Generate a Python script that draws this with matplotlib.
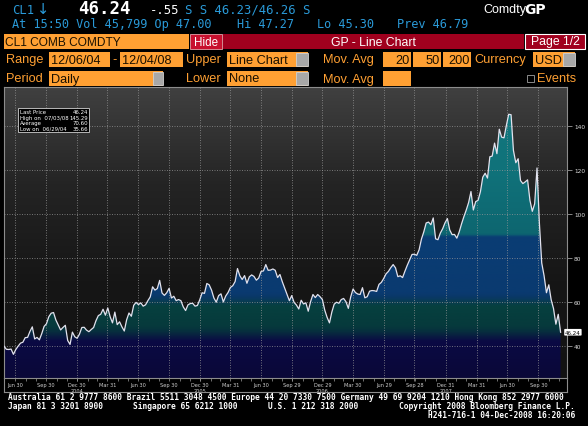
import matplotlib
matplotlib.use('Agg')
import matplotlib.pyplot as plt
import matplotlib.dates as mdates
from matplotlib.colors import LinearSegmentedColormap
from matplotlib.patches import Rectangle
import numpy as np
import pandas as pd


# ------------------------------------------------------------------ #
# Data: CL1 weekly closes (Friday dates)
# ------------------------------------------------------------------ #
prices_2004 = [39.9, 38.5, 38.4, 38.6, 36.2, 38.4, 39.9, 41.3, 41.7, 43.8,
               43.9, 46.6, 48.7, 43.2, 43.9, 42.8, 45.6, 48.9, 50.1, 53.3,
               54.9, 55.2, 51.8, 49.6, 47.3, 48.4, 49.4, 42.5, 40.7, 46.3,
               44.2, 43.5]
prices_2005 = [45.4, 48.4, 48.5, 47.2, 46.5, 47.5, 48.4, 51.5, 53.8, 54.4,
               56.7, 54.0, 57.3, 53.3, 50.5, 55.4, 49.7, 51.0, 48.7, 46.8,
               51.9, 55.0, 53.5, 58.5, 59.8, 58.8, 59.6, 58.1, 58.7, 60.6,
               62.3, 66.9, 65.4, 66.1, 69.8, 64.1, 63.0, 64.2, 66.2, 61.8,
               62.6, 60.6, 61.1, 60.6, 57.8, 56.1, 58.7, 59.3, 59.4, 58.1,
               58.4, 61.0]
prices_2006 = [64.2, 63.9, 68.4, 67.8, 65.4, 61.8, 59.9, 62.9, 63.7, 60.0,
               62.7, 64.3, 66.6, 67.4, 69.3, 75.2, 71.9, 70.2, 72.0, 68.5,
               71.4, 72.3, 71.6, 69.9, 70.9, 73.9, 74.1, 77.0, 74.4, 74.5,
               75.0, 74.4, 71.1, 72.5, 69.2, 66.3, 63.3, 60.6, 62.9, 59.8,
               58.6, 56.8, 60.8, 59.1, 59.6, 55.8, 60.2, 63.4, 62.0, 63.4,
               62.4, 61.1]
prices_2007 = [56.3, 53.0, 50.5, 55.4, 59.0, 59.9, 59.4, 61.1, 61.6, 60.1,
               57.1, 62.3, 65.9, 64.3, 63.6, 63.4, 66.5, 61.9, 62.4, 64.9,
               65.2, 65.1, 64.8, 68.0, 68.9, 70.7, 72.8, 73.9, 75.6, 77.0,
               75.5, 71.5, 71.9, 71.1, 74.0, 76.7, 79.1, 81.6, 81.7, 81.2,
               83.7, 88.6, 91.9, 95.9, 96.3, 95.1, 98.2, 88.7, 88.3, 91.3,
               93.3, 96.0]
prices_2008 = [97.9, 92.7, 90.6, 90.7, 89.0, 91.8, 95.5, 98.8, 101.8, 105.2,
               110.2, 101.8, 105.6, 106.2, 110.1, 116.7, 118.5, 116.3, 126.0, 126.3,
               132.2, 127.4, 138.5, 134.9, 134.6, 140.2, 145.3, 145.1, 128.9, 123.3,
               125.1, 115.2, 113.8, 114.6, 115.5, 106.2, 101.2, 104.6, 120.9, 96.0,
               77.7, 71.9, 64.2, 67.8, 61.0, 57.0, 49.9, 54.4, 46.24]
year_starts = ['2004-05-28', '2005-01-07', '2006-01-06', '2007-01-05', '2008-01-04']

tick_dates = ['2004-06-30', '2004-09-30', '2004-12-30', '2005-03-31', '2005-06-30',
              '2005-09-30', '2005-12-30', '2006-03-31', '2006-06-30', '2006-09-29',
              '2006-12-29', '2007-03-30', '2007-06-29', '2007-09-28', '2007-12-31',
              '2008-03-31', '2008-06-30', '2008-09-30']
tick_labels = ['Jun 30', 'Sep 30', 'Dec 30\n2004', 'Mar 31', 'Jun 30', 'Sep 30',
               'Dec 30\n2005', 'Mar 31', 'Jun 30', 'Sep 29', 'Dec 29\n2006', 'Mar 30',
               'Jun 29', 'Sep 28', 'Dec 31\n2007', 'Mar 31', 'Jun 30', 'Sep 30']
y_ticks = [40, 60, 80, 100, 120, 140]

stats_labels = ['Last Price', 'High on  07/03/08', 'Average', 'Low on  06/29/04']
stats_values = ['46.24', '145.29', '70.60', '35.66']

dates = []
prices = []
for start, vals in zip(year_starts, [prices_2004, prices_2005, prices_2006, prices_2007, prices_2008]):
    dates.extend(pd.date_range(start, periods=len(vals), freq='W-FRI'))
    prices.extend(vals)
xd = mdates.date2num(dates)
prices = np.array(prices)

# ------------------------------------------------------------------ #
# Colours
# ------------------------------------------------------------------ #
CYAN = '#2a9ad8'
AMBER = '#ffa033'
RED = '#a0001e'
GRID = '#9a9a9a'

W, H = 588, 427
fig = plt.figure(figsize=(W / 100, H / 100), dpi=100, facecolor='black')

# ------------------------------------------------------------------ #
# Main chart
# ------------------------------------------------------------------ #
px_left, px_right, px_top, px_bot = 4, 567, 88, 379
ax = fig.add_axes([px_left / W, (H - px_bot) / H, (px_right - px_left) / W, (px_bot - px_top) / H])

x0 = mdates.date2num(pd.Timestamp('2004-05-28'))
x1 = mdates.date2num(pd.Timestamp('2008-12-24'))
y0, y1 = 25.45, 157.7
ax.set_xlim(x0, x1)
ax.set_ylim(y0, y1)

# grey background gradient
bg_cmap = LinearSegmentedColormap.from_list('bg', ['#121212', '#161616', '#242424', '#404040'])
ax.imshow(np.linspace(0, 1, 256).reshape(-1, 1), extent=[x0, x1, y0, y1], origin='lower',
          aspect='auto', cmap=bg_cmap, zorder=0)

# banded area fill, clipped to the area under the price line
stops = [(25, '#0a0838'), (42, '#0b0a44'), (46.5, '#07303e'), (49, '#063a3c'),
         (58, '#06403f'), (62, '#0a3866'), (64, '#0a3a70'), (89.5, '#0a3d74'),
         (91, '#0d6670'), (120, '#10727a'), (157.7, '#137a80')]
fill_cmap = LinearSegmentedColormap.from_list(
    'fill', [((v - y0) / (y1 - y0) if v > y0 else 0.0, c) for v, c in stops])
im = ax.imshow(np.linspace(0, 1, 600).reshape(-1, 1), extent=[x0, x1, y0, y1], origin='lower',
               aspect='auto', cmap=fill_cmap, zorder=1)
area = ax.fill_between(xd, prices, y0, facecolor='none', edgecolor='none')
im.set_clip_path(area.get_paths()[0], transform=ax.transData)

ax.plot(xd, prices, color='#e2e2ee', lw=0.9, zorder=4)

# dotted grid drawn over the fill
for t in mdates.date2num(pd.to_datetime(tick_dates)):
    ax.axvline(t, color=GRID, lw=0.6, ls=(0, (1.2, 1.8)), alpha=0.8, zorder=3)
for v in y_ticks:
    ax.axhline(v, color=GRID, lw=0.6, ls=(0, (1.2, 1.8)), alpha=0.8, zorder=3)

# axes styling
ax.set_xticks(mdates.date2num(pd.to_datetime(tick_dates)))
ax.set_xticklabels(tick_labels, fontsize=3.6, color='#d0d0d0', linespacing=1.2)
month_ends = pd.date_range('2004-06-30', '2008-11-30', freq='ME')
ax.set_xticks(mdates.date2num(month_ends), minor=True)
ax.tick_params(axis='x', which='both', length=2, width=0.5, color='#9a9a9a', pad=1)
ax.yaxis.tick_right()
ax.set_yticks(y_ticks)
ax.set_yticklabels([str(v) for v in y_ticks], fontsize=4.2, color='#d8d8d8')
ax.tick_params(axis='y', length=3.5, width=0.5, color='#bbbbbb', pad=1.5)
for s in ax.spines.values():
    s.set_color('#8c8c8c')
    s.set_linewidth(0.8)

ax.annotate(f'{prices[-1]:.2f}', xy=(xd[-1], prices[-1]), xytext=(3.2, 0),
            textcoords='offset points', ha='left', va='center', fontsize=4, color='black',
            bbox=dict(boxstyle='round,pad=0.15', fc='white', ec='none'),
            annotation_clip=False, zorder=6)

# ------------------------------------------------------------------ #
# Terminal screen overlay (pixel coordinates)
# ------------------------------------------------------------------ #
cv = fig.add_axes([0, 0, 1, 1], zorder=10)
cv.set_xlim(0, W)
cv.set_ylim(H, 0)
cv.axis('off')


def box(xa, ya, xb, yb, fc, ec='none', lw=0.6):
    cv.add_patch(Rectangle((xa, ya), xb - xa, yb - ya, facecolor=fc, edgecolor=ec, lw=lw))


MONO = 'DejaVu Sans Mono'
SANS = 'Liberation Sans'

# row 1 and 2: quote line
cv.text(12, 10, 'CL1', color=CYAN, family=MONO, fontsize=8.8, va='center')
cv.text(37, 10, '\u2193', color=CYAN, family='DejaVu Sans', fontsize=10.5, va='center')
cv.text(104, 9.5, '46.24', color='white', family=MONO, fontweight='bold', fontsize=12.5,
        va='center', ha='center')
cv.text(150, 10.5, '-.55', color='white', family=MONO, fontsize=8.8, va='center')
cv.text(185, 10, 'S S 46.23/46.26 S', color=CYAN, family=MONO, fontsize=8.8, va='center')
cv.text(483, 10, 'Comdty', color='white', family=SANS, fontsize=9, va='center')
cv.text(524, 10, 'GP', color='white', family='DejaVu Sans', fontweight='bold', fontsize=10, va='center')

cv.text(12, 24.5, 'At 15:50 Vol 45,799 Op 47.00', color=CYAN, family=MONO, fontsize=8.6, va='center')
cv.text(237, 24.5, 'Hi 47.27', color=CYAN, family=MONO, fontsize=8.6, va='center')
cv.text(317, 24.5, 'Lo 45.30', color=CYAN, family=MONO, fontsize=8.6, va='center')
cv.text(397, 24.5, 'Prev 46.79', color=CYAN, family=MONO, fontsize=8.6, va='center')

# row 3: title bar
box(4, 35, 189, 50, AMBER)
cv.text(5, 42.5, 'CL1 COMB COMDTY', color='#1a1000', family=SANS, fontsize=8.6, va='center')
box(190, 35, 222, 50, '#c8102e', ec='#e8a0a8')
cv.text(206, 42.5, 'Hide', color='white', family=SANS, fontsize=8.4, va='center', ha='center')
box(223, 35, 524, 50, RED)
cv.text(373, 42.5, 'GP - Line Chart', color='white', family=SANS, fontsize=8.8, va='center', ha='center')
box(525, 35, 585, 50, RED, ec='white', lw=0.8)
cv.text(555, 42.5, 'Page 1/2', color='white', family=SANS, fontsize=8.8, va='center', ha='center')

# rows 4 and 5: settings
r4, r5 = 60.5, 79.5
for label, x, y in [('Range', 6, r4), ('Upper', 186, r4), ('Mov. Avg', 323, r4), ('Currency', 474, r4),
                    ('Period', 6, r5), ('Lower', 186, r5), ('Mov. Avg', 323, r5), ('Events', 537, r5),
                    ('-', 112, r4)]:
    cv.text(x, y, label, color=AMBER, family=SANS, fontsize=9.2, va='center')

for xa, xb, y, txt in [(49, 110, r4, '12/06/04'), (120, 183, r4, '12/04/08'),
                       (227, 308, r4, 'Line Chart'), (533, 575, r4, 'USD'),
                       (49, 163, r5, 'Daily'), (227, 308, r5, 'None')]:
    box(xa, y - 7.5, xb, y + 7.5, AMBER)
    cv.text(xa + 2, y, txt, color='#1a1000', family=SANS, fontsize=9.2, va='center')
for xa, xb, y in [(296, 308, r4), (563, 575, r4), (153, 163, r5), (296, 308, r5)]:
    box(xa, y - 6.5, xb, y + 6.5, '#a8a8a8', ec='#d0d0d0')
for xa, xb, txt in [(383, 411, '20'), (413, 441, '50'), (443, 471, '200')]:
    box(xa, r4 - 7.5, xb, r4 + 7.5, AMBER)
    cv.text(xb - 1, r4, txt, color='#1a1000', family=SANS, fontsize=9.2, va='center', ha='right')
box(383, r5 - 7.5, 411, r5 + 7.5, AMBER)
box(527, r5 - 3.5, 534, r5 + 3.5, 'black', ec='#a0a0a0')

# frame of the date strip under the chart
cv.plot([4, 567], [393, 393], color='#8c8c8c', lw=0.8)
cv.plot([4, 4], [379, 393], color='#8c8c8c', lw=0.8)
cv.plot([567, 567], [379, 393], color='#8c8c8c', lw=0.8)

# statistics box
box(18, 109, 89, 133, 'black', ec='#d0d0d0', lw=0.6)
for i, (lab, val) in enumerate(zip(stats_labels, stats_values)):
    yy = 113 + i * 5.4
    cv.text(20, yy, lab, color='white', family='DejaVu Sans', fontsize=3.9, va='center')
    cv.text(88, yy, val, color='white', family='DejaVu Sans', fontsize=3.9, va='center', ha='right')

# footer
FOOT = dict(color='white', family=MONO, fontweight='bold', fontsize=5.66, va='center')
cv.text(8, 398, 'Australia 61 2 9777 8600 Brazil 5511 3048 4500 Europe 44 20 7330 7500 '
        'Germany 49 69 9204 1210 Hong Kong 852 2977 6000', **FOOT)
cv.text(8, 407, 'Japan 81 3 3201 8900', **FOOT)
cv.text(133, 407, 'Singapore 65 6212 1000', **FOOT)
cv.text(268, 407, 'U.S. 1 212 318 2000', **FOOT)
cv.text(575, 407, 'Copyright 2008 Bloomberg Finance L.P.', ha='right', **FOOT)
cv.text(575, 416, 'H241-716-1 04-Dec-2008 16:20:06', ha='right', **FOOT)

fig.savefig('out.png', dpi=100, facecolor='black')
